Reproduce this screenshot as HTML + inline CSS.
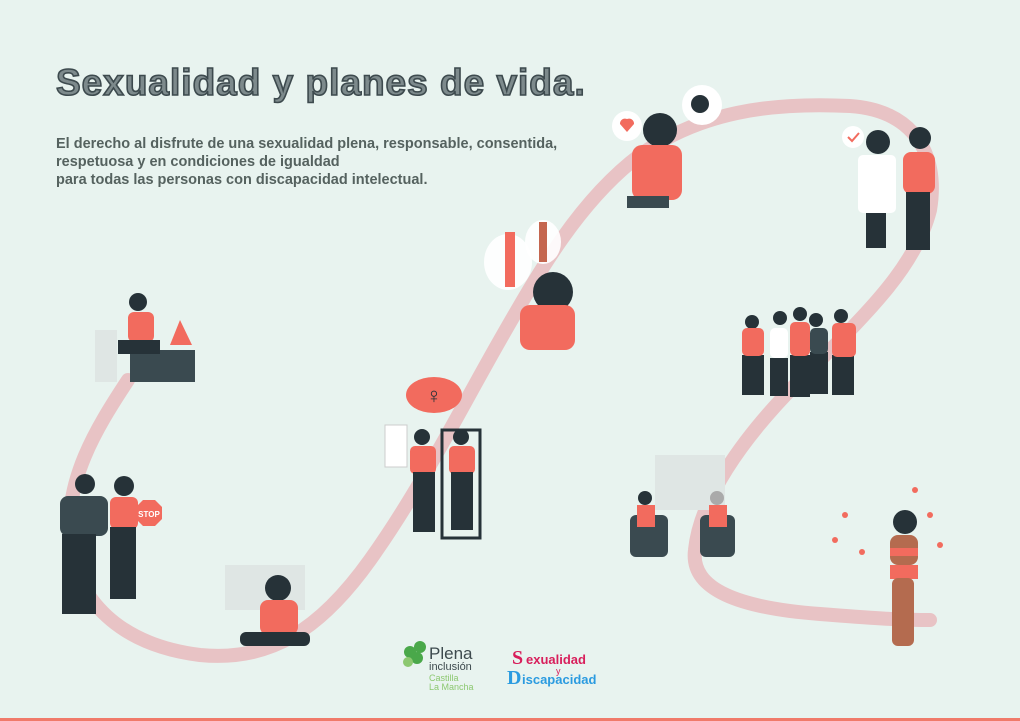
<!DOCTYPE html>
<html><head><meta charset="utf-8"><style>
html,body{margin:0;padding:0}
body{width:1020px;height:721px;background:#e8f3ef;position:relative;overflow:hidden;font-family:"Liberation Sans",sans-serif}
.t{position:absolute;left:56px;top:62px;font-size:37px;font-weight:bold;color:#7d8a8c;-webkit-text-stroke:1.6px #3d4a4e;letter-spacing:1px}
.s{position:absolute;left:56px;top:135px;font-size:14.5px;font-weight:bold;color:#55625f;line-height:18px}
</style></head><body>
<div class="t">Sexualidad y planes de vida.</div>
<div class="s">El derecho al disfrute de una sexualidad plena, responsable, consentida,<br>respetuosa y en condiciones de igualdad<br>para todas las personas con discapacidad intelectual.</div>
<svg width="1020" height="721" style="position:absolute;left:0;top:0">
<path d="M128,380 C95,430 65,480 70,540 C75,600 120,645 200,655 C270,662 320,630 370,560 C420,490 460,410 500,340 C540,270 580,200 640,155 C700,112 770,102 850,106 C910,110 940,150 930,210 C915,270 860,320 800,380 C740,440 700,500 695,550 C690,590 740,608 820,614 C870,618 900,620 930,620" fill="none" stroke="#e8c3c5" stroke-width="14" stroke-linecap="round"/>
<line x1="0" y1="719.5" x2="1020" y2="719.5" stroke="#f07a6a" stroke-width="3"/>
<g>
<rect x="95" y="330" width="22" height="52" fill="#dfe6e4"/><rect x="130" y="350" width="65" height="32" fill="#3a4a50"/>
<circle cx="138" cy="302" r="9" fill="#263238"/><rect x="128" y="312" width="26" height="30" rx="6" fill="#f26b5e"/><rect x="118" y="340" width="42" height="14" fill="#263238"/>
<path d="M170,345 L180,320 L192,345Z" fill="#f26b5e"/>
<circle cx="85" cy="484" r="10" fill="#263238"/><rect x="60" y="496" width="48" height="40" rx="8" fill="#3a4a50"/><rect x="62" y="534" width="34" height="80" fill="#263238"/>
<circle cx="124" cy="486" r="10" fill="#263238"/><rect x="110" y="497" width="28" height="32" rx="6" fill="#f26b5e"/><rect x="110" y="527" width="26" height="72" fill="#263238"/>
<polygon points="143,500 155,500 162,507 162,519 155,526 143,526 136,519 136,507" fill="#f26b5e"/>
<text x="149" y="517" font-size="8" fill="#fff" text-anchor="middle" font-weight="bold">STOP</text>
<rect x="225" y="565" width="80" height="45" fill="#dfe6e4"/>
<circle cx="278" cy="588" r="13" fill="#263238"/><rect x="260" y="600" width="38" height="35" rx="8" fill="#f26b5e"/><rect x="240" y="632" width="70" height="14" rx="6" fill="#263238"/>
<ellipse cx="434" cy="395" rx="28" ry="18" fill="#f26b5e"/><text x="434" y="403" font-size="22" fill="#263238" text-anchor="middle">♀</text>
<rect x="385" y="425" width="22" height="42" fill="#fff" stroke="#ccc"/>
<rect x="442" y="430" width="38" height="108" fill="none" stroke="#263238" stroke-width="3"/>
<circle cx="422" cy="437" r="8" fill="#263238"/><rect x="410" y="446" width="26" height="28" rx="5" fill="#f26b5e"/><rect x="413" y="472" width="22" height="60" fill="#263238"/>
<circle cx="461" cy="437" r="8" fill="#263238"/><rect x="449" y="446" width="26" height="28" rx="5" fill="#f26b5e"/><rect x="451" y="472" width="22" height="58" fill="#263238"/>
<ellipse cx="508" cy="262" rx="24" ry="28" fill="#fff" opacity=".9"/><ellipse cx="543" cy="242" rx="18" ry="22" fill="#fff" opacity=".9"/>
<rect x="505" y="232" width="10" height="55" fill="#f26b5e"/><rect x="539" y="222" width="8" height="40" fill="#c4664f"/>
<circle cx="553" cy="292" r="20" fill="#263238"/><rect x="520" y="305" width="55" height="45" rx="10" fill="#f26b5e"/>
<circle cx="627" cy="126" r="15" fill="#fff"/><path d="M620,124 a5,5 0 0 1 7,-5 a5,5 0 0 1 7,5 l-7,8z" fill="#f26b5e"/>
<circle cx="702" cy="105" r="20" fill="#fff"/><circle cx="700" cy="104" r="9" fill="#263238"/>
<circle cx="660" cy="130" r="17" fill="#263238"/><rect x="632" y="145" width="50" height="55" rx="10" fill="#f26b5e"/><rect x="627" y="196" width="42" height="12" fill="#3a4a50"/>
<circle cx="853" cy="137" r="11" fill="#fff"/><path d="M848,137 l4,4 l7,-8" stroke="#f26b5e" stroke-width="2" fill="none"/>
<circle cx="878" cy="142" r="12" fill="#263238"/><rect x="858" y="155" width="38" height="58" rx="5" fill="#fff"/><rect x="866" y="213" width="20" height="35" fill="#263238"/>
<circle cx="920" cy="138" r="11" fill="#263238"/><rect x="903" y="152" width="32" height="42" rx="8" fill="#f26b5e"/><rect x="906" y="192" width="24" height="58" fill="#263238"/>
<g fill="#263238">
<circle cx="752" cy="322" r="7"/><circle cx="780" cy="318" r="7"/><circle cx="800" cy="314" r="7"/><circle cx="816" cy="320" r="7"/><circle cx="841" cy="316" r="7"/>
<rect x="742" y="355" width="22" height="40"/><rect x="770" y="358" width="18" height="38"/><rect x="790" y="355" width="20" height="42"/><rect x="810" y="352" width="18" height="42"/><rect x="832" y="355" width="22" height="40"/>
</g>
<g fill="#f26b5e"><rect x="742" y="328" width="22" height="28" rx="5"/><rect x="770" y="328" width="18" height="30" rx="5" fill="#fff"/><rect x="790" y="322" width="20" height="34" rx="5"/><rect x="810" y="328" width="18" height="26" rx="5" fill="#3a4a50"/><rect x="832" y="323" width="24" height="34" rx="5"/></g>
<rect x="655" y="455" width="70" height="55" fill="#dfe6e4"/>
<rect x="630" y="515" width="38" height="42" rx="6" fill="#3a4a50"/><circle cx="645" cy="498" r="7" fill="#263238"/><rect x="637" y="505" width="18" height="22" fill="#f26b5e"/>
<rect x="700" y="515" width="35" height="42" rx="6" fill="#3a4a50"/><circle cx="717" cy="498" r="7" fill="#aaa"/><rect x="709" y="505" width="18" height="22" fill="#f26b5e"/>
<circle cx="905" cy="522" r="12" fill="#263238"/><rect x="890" y="535" width="28" height="30" rx="8" fill="#b46b4f"/><rect x="890" y="548" width="28" height="8" fill="#f26b5e"/><rect x="890" y="565" width="28" height="14" fill="#f26b5e"/><rect x="892" y="578" width="22" height="68" rx="6" fill="#b46b4f"/>
<g fill="#f26b5e"><circle cx="915" cy="490" r="3"/><circle cx="930" cy="515" r="3"/><circle cx="845" cy="515" r="3"/><circle cx="862" cy="552" r="3"/><circle cx="940" cy="545" r="3"/><circle cx="835" cy="540" r="3"/></g>
</g>
<g fill="#4aa84a"><circle cx="410" cy="652" r="6"/><circle cx="420" cy="647" r="6"/><circle cx="417" cy="658" r="6"/><circle cx="408" cy="662" r="5" fill="#8cc870"/></g>
<text x="429" y="659" font-size="17" fill="#3d4a4e">Plena</text>
<text x="429" y="670" font-size="11" fill="#3d4a4e">inclusión</text>
<text x="429" y="681" font-size="9" fill="#8cc870">Castilla</text>
<text x="429" y="690" font-size="9" fill="#8cc870">La Mancha</text>
<text x="512" y="664" font-size="20" font-weight="bold" fill="#d81e5b" font-family="Liberation Serif">S</text><text x="526" y="664" font-size="13" font-weight="bold" fill="#d81e5b">exualidad</text>
<text x="556" y="674" font-size="9" fill="#d81e5b">y</text>
<text x="507" y="684" font-size="20" font-weight="bold" fill="#2b9be0" font-family="Liberation Serif">D</text><text x="522" y="684" font-size="13" font-weight="bold" fill="#2b9be0">iscapacidad</text>
</svg>
</body></html>
